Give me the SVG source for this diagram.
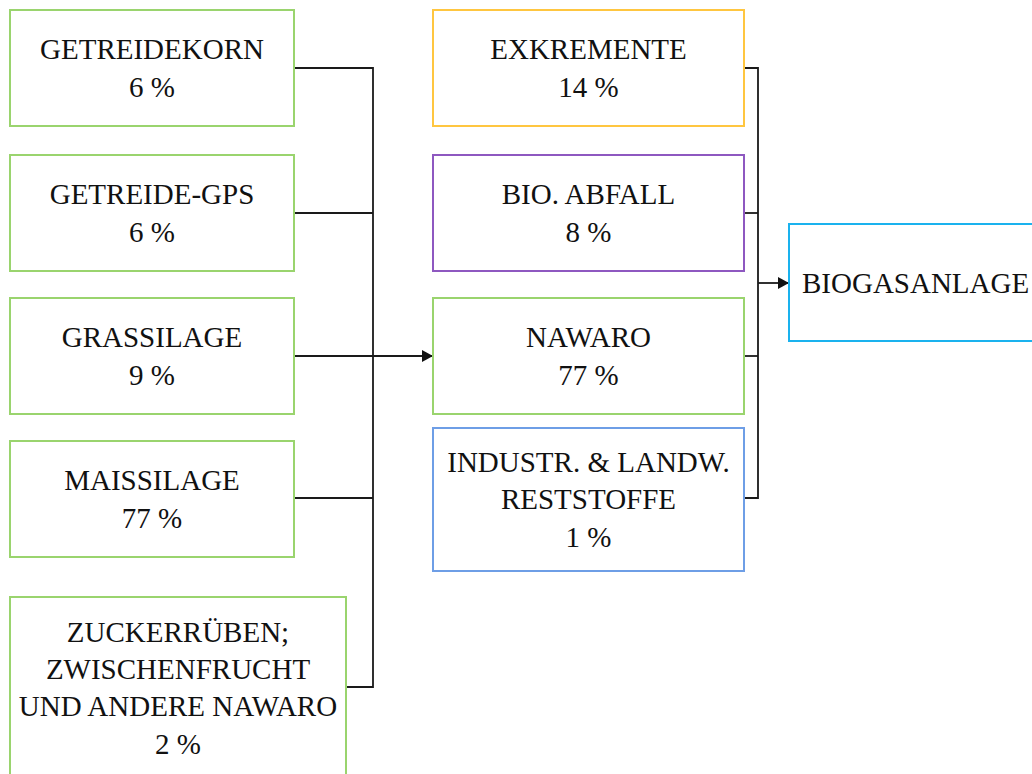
<svg xmlns="http://www.w3.org/2000/svg" width="1032" height="774" viewBox="0 0 1032 774">
<style>
.box{fill:#fff;stroke-width:2}
.g{stroke:#9ad46e}
.o{stroke:#ffc640}
.p{stroke:#8e58c0}
.b{stroke:#6e9ee6}
.c{stroke:#1ab2ee}
text{font-family:"Liberation Serif","Times New Roman",serif;font-size:29px;fill:#111;text-anchor:middle}
.conn{fill:none;stroke:#1a1a1a;stroke-width:1.8}
</style>
<defs>
<marker id="arr" viewBox="0 0 11 12" refX="11" refY="6" markerWidth="11" markerHeight="12" markerUnits="userSpaceOnUse" orient="auto">
<path d="M0,0 L11,6 L0,12 z" fill="#111"/>
</marker>
</defs>
<g id="connectors">
<path class="conn" d="M294,68 H373 V687 H346"/>
<path class="conn" d="M294,213 H373"/>
<path class="conn" d="M294,498 H373"/>
<path class="conn" d="M294,356 H433" marker-end="url(#arr)"/>
<path class="conn" d="M744,68 H758 V498 H744"/>
<path class="conn" d="M744,213 H758"/>
<path class="conn" d="M744,356 H758"/>
<path class="conn" d="M758,283 H789" marker-end="url(#arr)"/>
</g>
<g id="getreidekorn"><rect class="box g" x="10" y="10" width="284" height="116"/><text x="152" y="59">GETREIDEKORN</text><text x="152" y="97">6 %</text></g>
<g id="getreide-gps"><rect class="box g" x="10" y="155" width="284" height="116"/><text x="152" y="204">GETREIDE-GPS</text><text x="152" y="242">6 %</text></g>
<g id="grassilage"><rect class="box g" x="10" y="298" width="284" height="116"/><text x="152" y="347">GRASSILAGE</text><text x="152" y="385">9 %</text></g>
<g id="maissilage"><rect class="box g" x="10" y="441" width="284" height="116"/><text x="152" y="490">MAISSILAGE</text><text x="152" y="528">77 %</text></g>
<g id="zuckerrueben"><rect class="box g" x="10" y="597" width="336" height="190"/><text x="178" y="642">ZUCKERRÜBEN;</text><text x="178" y="679">ZWISCHENFRUCHT</text><text x="178" y="716">UND ANDERE NAWARO</text><text x="178" y="754">2 %</text></g>
<g id="exkremente"><rect class="box o" x="433" y="10" width="311" height="116"/><text x="588.5" y="59">EXKREMENTE</text><text x="588.5" y="97">14 %</text></g>
<g id="bioabfall"><rect class="box p" x="433" y="155" width="311" height="116"/><text x="588.5" y="204">BIO. ABFALL</text><text x="588.5" y="242">8 %</text></g>
<g id="nawaro"><rect class="box g" x="433" y="298" width="311" height="116"/><text x="588.5" y="347">NAWARO</text><text x="588.5" y="385">77 %</text></g>
<g id="reststoffe"><rect class="box b" x="433" y="428" width="311" height="143"/><text x="588.5" y="472">INDUSTR. &amp; LANDW.</text><text x="588.5" y="509">RESTSTOFFE</text><text x="588.5" y="547">1 %</text></g>
<g id="biogasanlage"><rect class="box c" x="789" y="224" width="260" height="117"/><text x="802" y="293" style="text-anchor:start">BIOGASANLAGE</text></g>
</svg>
